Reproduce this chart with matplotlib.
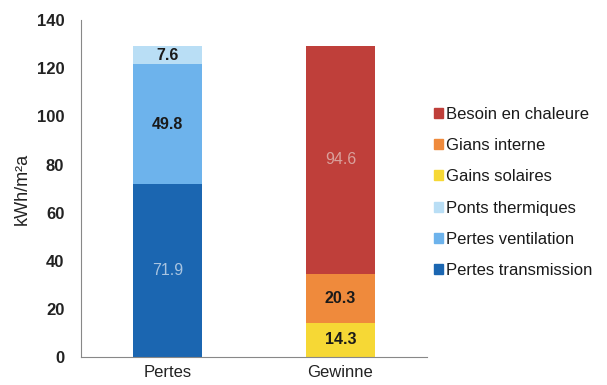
import matplotlib.pyplot as plt
from matplotlib.patches import Patch

plt.rcParams['font.family'] = ['Liberation Sans', 'DejaVu Sans']

categories = ['Pertes', 'Gewinne']

# bottom -> top for each bar
pertes_labels = ['Pertes transmission', 'Pertes ventilation', 'Ponts thermiques']
pertes_values = [71.9, 49.8, 7.6]
pertes_colors = ['#1b66b1', '#6db3ec', '#b9def5']
pertes_text = ['#a9c4e0', '#1a1a1a', '#1a1a1a']

gewinne_labels = ['Gains solaires', 'Gians interne', 'Besoin en chaleure']
gewinne_values = [14.3, 20.3, 94.6]
gewinne_colors = ['#f6d835', '#ef8a3c', '#bf3f3a']
gewinne_text = ['#1a1a1a', '#1a1a1a', '#d9a19c']

fig = plt.figure(figsize=(6.07, 3.85), dpi=100)
ax = fig.add_axes([0.1334, 0.0727, 0.570, 0.875])

width = 0.4
for xi, vals, cols, tcols in [(0, pertes_values, pertes_colors, pertes_text),
                              (1, gewinne_values, gewinne_colors, gewinne_text)]:
    bottom = 0
    for v, c, tc in zip(vals, cols, tcols):
        ax.bar(xi, v, width, bottom=bottom, color=c, edgecolor='none')
        weight = 'normal' if tc != '#1a1a1a' else 'bold'
        ax.text(xi, bottom + v / 2, f"{v:.1f}", ha='center', va='center',
                fontsize=11.5, fontweight=weight, color=tc)
        bottom += v

ax.set_xlim(-0.5, 1.5)
ax.set_ylim(0, 140)
ax.set_yticks(range(0, 141, 20))
ax.set_xticks([0, 1])
ax.set_xticklabels(categories, fontsize=12, color='#222222')
ax.tick_params(axis='both', length=0)
ax.tick_params(axis='y', pad=12, labelsize=12)
for lab in ax.get_yticklabels():
    lab.set_fontweight('bold')
    lab.set_color('#222222')
ax.tick_params(axis='x', pad=6)
ax.set_ylabel('kWh/m²a', fontsize=13, color='#222222', labelpad=4)

for s in ['top', 'right']:
    ax.spines[s].set_visible(False)
ax.spines['left'].set_color('#888888')
ax.spines['bottom'].set_color('#888888')

handles = [Patch(color=c, label=l) for l, c in
           zip(gewinne_labels[::-1] + pertes_labels[::-1],
               gewinne_colors[::-1] + pertes_colors[::-1])]
fig.legend(handles=handles, loc='center left', bbox_to_anchor=(0.69, 0.5),
           frameon=False, fontsize=12, handlelength=0.55, handleheight=0.55,
           handletextpad=0.2, labelspacing=0.98, labelcolor='#1a1a1a')

fig.savefig('out.png', dpi=100)
